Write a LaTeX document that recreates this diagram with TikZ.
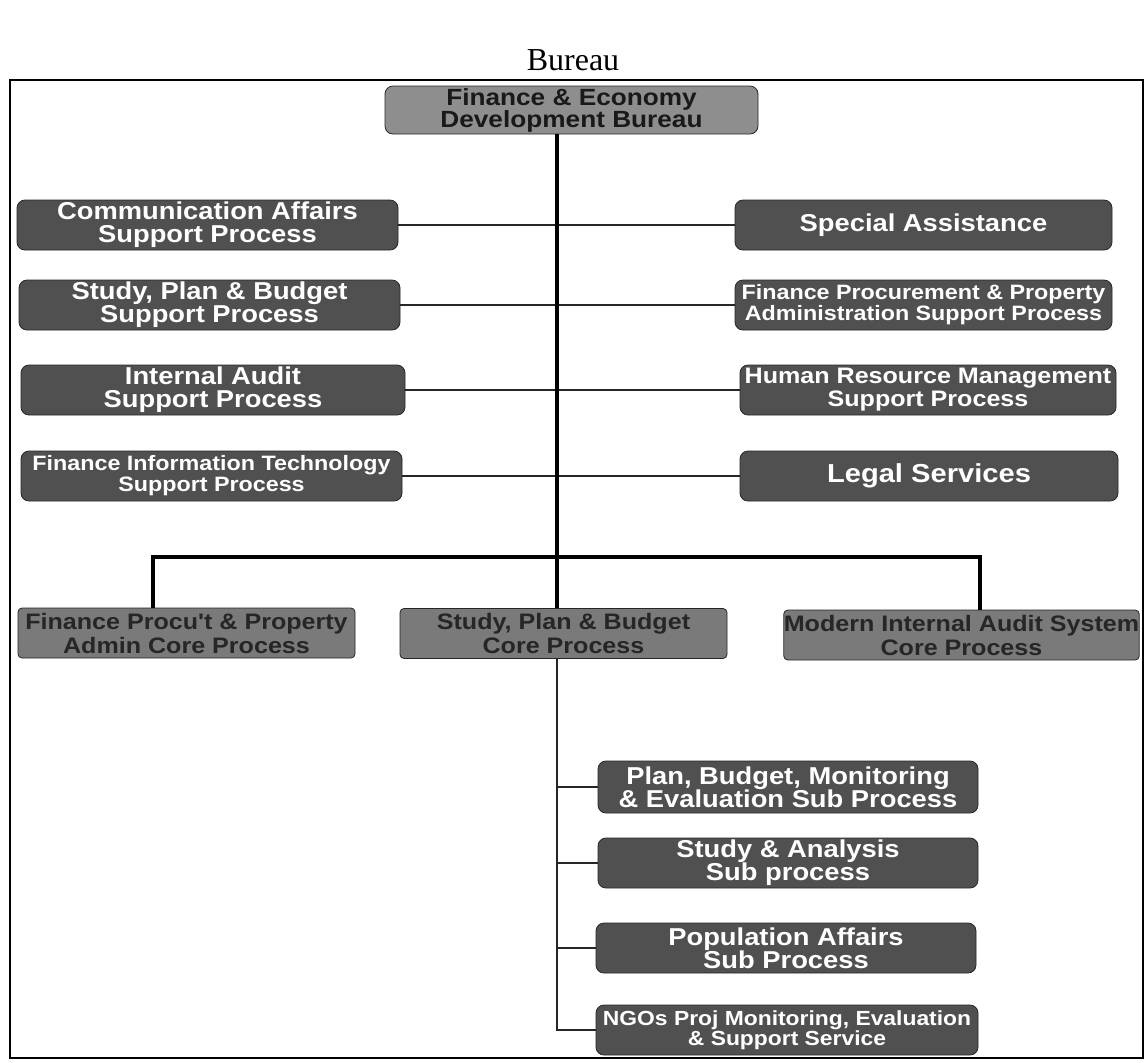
\documentclass[tikz,border=0pt]{standalone}
\usepackage{fontspec}
\setmainfont{Liberation Serif}
\newfontfamily\boxfont[FakeStretch=1.12]{Liberation Sans}
\usepackage{xcolor}
\usetikzlibrary{math}
\definecolor{supgray}{RGB}{80,80,80}
\definecolor{coregray}{RGB}{122,122,122}
\definecolor{topgray}{RGB}{142,142,142}

\begin{document}
\begin{tikzpicture}[x=0.5pt,y=-0.5pt,
  supbox/.style={draw=black!85, fill=supgray, rounded corners=4pt, text=white,
    align=center, inner sep=0pt, minimum height=25pt,
    font=\boxfont\bfseries\fontsize{12.2}{11.5}\selectfont},
  smallsup/.style={supbox, font=\boxfont\bfseries\fontsize{10.4}{10.5}\selectfont},
  corebox/.style={supbox, fill=coregray, text=black!85, rounded corners=2pt,
    font=\boxfont\bfseries\fontsize{11.2}{12}\selectfont},
  thinline/.style={line width=0.8pt, black!85},
  thickline/.style={line width=2pt}]
\tikzmath{
\tx=557;
\by=557;
}
\useasboundingbox (0,0) rectangle (1146,1062);

% title and frame
\node[font=\fontsize{16}{18}\selectfont] (title) at (573,60) {Bureau};
\draw[line width=1pt] (10,80) rectangle (1143,1058);

% head
\node[supbox, fill=topgray, text=black!90, minimum width=186.5pt, minimum height=24pt,
  font=\boxfont\bfseries\fontsize{11.7}{11}\selectfont] (head) at (571.5,110)
  {Finance \& Economy\\Development Bureau};

% support processes, left
\node[supbox, minimum width=190.5pt] (comm) at (207.5,225) {Communication Affairs\\Support Process};
\node[supbox, minimum width=190.5pt] (spbsup) at (209.5,305) {Study, Plan \& Budget\\Support Process};
\node[supbox, minimum width=192pt] (audit) at (213,390) {Internal Audit\\Support Process};
\node[smallsup, minimum width=190.5pt] (fit) at (211.5,476) {Finance Information Technology\\Support Process};

% support processes, right
\node[supbox, minimum width=188.5pt] (special) at (923.5,225) {Special Assistance};
\node[smallsup, minimum width=188.5pt] (fpp) at (923.5,305) {Finance Procurement \& Property\\Administration Support Process};
\node[supbox, minimum width=188pt, font=\boxfont\bfseries\fontsize{11.2}{11.5}\selectfont] (hrm) at (928,390) {Human Resource Management\\Support Process};
\node[supbox, minimum width=189pt, font=\boxfont\bfseries\fontsize{13}{13}\selectfont] (legal) at (929,476) {Legal Services};

\draw[thinline] (comm) -- (special);
\draw[thinline] (spbsup) -- (fpp);
\draw[thinline] (audit) -- (hrm);
\draw[thinline] (fit) -- (legal);

% core processes
\node[corebox, minimum width=168.5pt] (fpcore) at (186.5,633) {Finance Procu't \& Property\\Admin Core Process};
\node[corebox, minimum width=163.5pt] (spbcore) at (563.5,633.5) {Study, Plan \& Budget\\Core Process};
\node[corebox, minimum width=173.5pt] (micore) at (961.5,635) {Modern Internal Audit System\\Core Process};

\coordinate (busL) at (153,\by);
\coordinate (busM) at (\tx,\by);
\coordinate (busR) at (980,\by);

\draw[thickline] (head.south -| busM) -- (spbcore.north -| busM);
\draw[thickline] (busL |- fpcore.north) -- (busL) -- (busR) -- (busR |- micore.north);

% sub processes
\node[supbox, minimum width=190pt, minimum height=26pt] (pbme) at (788,787) {Plan, Budget, Monitoring\\\& Evaluation Sub Process};
\node[supbox, minimum width=190pt] (sa) at (788,863) {Study \& Analysis\\Sub process};
\node[supbox, minimum width=190pt] (pa) at (786,948) {Population Affairs\\Sub Process};
\node[smallsup, minimum width=191pt, font=\boxfont\bfseries\fontsize{10.2}{10}\selectfont] (ngo) at (787,1030) {NGOs Proj Monitoring, Evaluation\\\& Support Service};

\draw[thinline] (spbcore.south -| busM) |- (ngo.west);
\foreach \s in {pbme,sa,pa}
  \draw[thinline] (\s.west) -- (\s.west -| busM);
\end{tikzpicture}
\end{document}
